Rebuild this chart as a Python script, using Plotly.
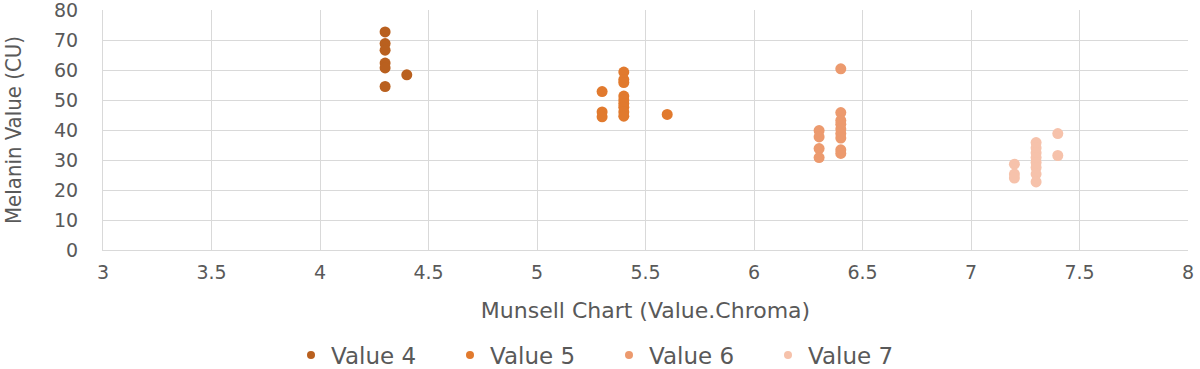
import plotly.graph_objects as go

names = ["Value 4", "Value 5", "Value 6", "Value 7"]
colors = ["#b9601f", "#e17a2e", "#ec9a6e", "#f6c2ab"]

v4_x = [4.3, 4.3, 4.3, 4.3, 4.3, 4.3, 4.4]
v4_y = [72.7, 68.8, 66.6, 62.3, 60.7, 54.5, 58.4]

v5_x = [5.3, 5.3, 5.3, 5.4, 5.4, 5.4, 5.4, 5.4, 5.4, 5.4, 5.4, 5.4, 5.6]
v5_y = [52.8, 46.0, 44.4, 59.3, 56.8, 55.8, 51.3, 50.0, 48.8, 47.6, 46.0, 44.6, 45.2]

v6_x = [6.3, 6.3, 6.3, 6.3, 6.4, 6.4, 6.4, 6.4, 6.4, 6.4, 6.4, 6.4, 6.4]
v6_y = [39.8, 37.7, 33.8, 30.8, 60.4, 45.8, 43.2, 41.9, 40.3, 38.8, 37.3, 33.4, 32.2]

v7_x = [7.2, 7.2, 7.2, 7.3, 7.3, 7.3, 7.3, 7.3, 7.3, 7.3, 7.3, 7.4, 7.4]
v7_y = [28.6, 25.3, 24.0, 35.8, 34.0, 32.4, 30.8, 29.2, 27.5, 25.3, 22.7, 38.8, 31.5]

series = [(v4_x, v4_y), (v5_x, v5_y), (v6_x, v6_y), (v7_x, v7_y)]

fig = go.Figure()
for name, col, (xs, ys) in zip(names, colors, series):
    fig.add_trace(go.Scatter(x=xs, y=ys, mode="markers", name=name, showlegend=False,
                             legendgroup=name,
                             marker=dict(color=col, size=11, line=dict(width=0))))
# legend-only entries with smaller symbols
for name, col in zip(names, colors):
    fig.add_trace(go.Scatter(x=[None], y=[None], mode="markers", name=name,
                             legendgroup=name,
                             marker=dict(color=col, size=8, line=dict(width=0))))

ff = "DejaVu Sans, sans-serif"
grey = "#595959"
fig.update_layout(
    width=1200, height=369,
    margin=dict(l=103, r=12, t=10, b=119, autoexpand=False),
    plot_bgcolor="white", paper_bgcolor="white",
    font=dict(family=ff, size=19, color=grey),
    showlegend=True,
    legend=dict(orientation="h", xref="container", yref="container",
                x=0.2425, y=0.038, xanchor="left", yanchor="middle",
                font=dict(size=23, color=grey, family=ff),
                entrywidth=114, entrywidthmode="pixels",
                tracegroupgap=0),
    xaxis=dict(range=[3, 8], dtick=0.5, tick0=3, showgrid=True,
               gridcolor="#d9d9d9", gridwidth=1, zeroline=False,
               showline=True, linecolor="#d9d9d9", ticks="",
               ticklabelstandoff=5, ticklabeloverflow="allow", automargin=False,
               tickfont=dict(size=19, color=grey, family=ff),
               title=dict(text="Munsell Chart (Value.Chroma)", standoff=20,
                          font=dict(size=22, color=grey, family=ff))),
    yaxis=dict(range=[0, 80], dtick=10, showgrid=True, gridcolor="#d9d9d9",
               gridwidth=1, zeroline=False, showline=True, linecolor="#d9d9d9",
               ticks="", ticklabelstandoff=20, ticklabeloverflow="allow",
               automargin=False,
               tickfont=dict(size=19, color=grey, family=ff),
               title=dict(text="Melanin Value (CU)", standoff=26,
                          font=dict(size=22, color=grey,
                                    family="Liberation Sans Narrow, DejaVu Sans Condensed, sans-serif"))),
)
fig.write_html("out.html")
